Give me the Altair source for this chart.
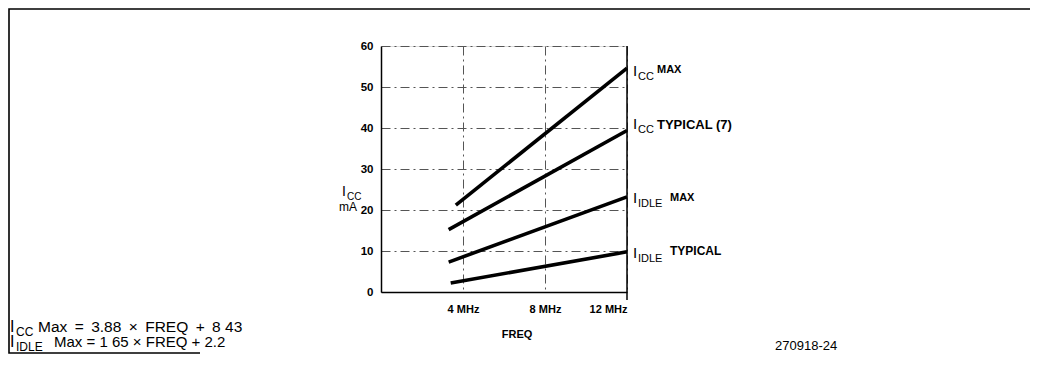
import altair as alt
import pandas as pd

# ---- data ----
series_names = ["ICC MAX", "ICC TYPICAL", "IDLE MAX", "IDLE TYPICAL"]
freq_icc_max = [3.65, 12.0]
val_icc_max = [21.2, 54.6]
freq_icc_typ = [3.3, 12.0]
val_icc_typ = [15.2, 39.4]
freq_idle_max = [3.3, 12.0]
val_idle_max = [7.3, 23.2]
freq_idle_typ = [3.4, 12.0]
val_idle_typ = [2.2, 9.8]

y_ticks = [0, 10, 20, 30, 40, 50, 60]
x_ticks = [4, 8, 12]
x_tick_labels = ["4 MHz", "8 MHz", "12 MHz"]

# line-end labels: main letter, subscript, suffix, anchor value (baseline of the "I")
lab_main = ["I", "I", "I", "I"]
lab_sub = ["CC", "CC", "IDLE", "IDLE"]
lab_suffix = ["MAX", "TYPICAL (7)", "MAX", "TYPICAL"]
lab_y = [52.7, 39.8, 21.7, 8.3]
# style of each label piece (offsets in px)
lab_sfx_dx = [30, 30, 43, 43]
lab_sfx_dy = [-3, 0, -2, -3]
lab_sfx_size = [11, 13, 11, 12]

rows = []
for name, fx, fy in zip(series_names,
                        [freq_icc_max, freq_icc_typ, freq_idle_max, freq_idle_typ],
                        [val_icc_max, val_icc_typ, val_idle_max, val_idle_typ]):
    for a, b in zip(fx, fy):
        rows.append({"series": name, "freq": a, "ma": b})
df = pd.DataFrame(rows)

FONT = "Liberation Sans"
W, H = 246, 246

xs = alt.Scale(domain=[0, 12], nice=False)
ys = alt.Scale(domain=[0, 60], nice=False)
GRID_DASH = [9, 4, 2, 4]

label_expr = " : ".join(
    f"datum.value == {v} ? '{t}'" for v, t in zip(x_ticks[:-1], x_tick_labels[:-1])
) + f" : '{x_tick_labels[-1]}'"

lines = alt.Chart(df).mark_line(color="black", strokeWidth=3.6, strokeCap="butt").encode(
    x=alt.X("freq:Q", scale=xs,
            axis=alt.Axis(values=x_ticks, grid=True, gridDash=GRID_DASH, gridColor="#555",
                          gridWidth=1, domain=True, domainColor="black", domainWidth=1.5,
                          ticks=False, labelPadding=11, labelFont=FONT, labelFontSize=11,
                          labelFontWeight="bold", labelColor="black",
                          labelExpr=label_expr, title=None)),
    y=alt.Y("ma:Q", scale=ys,
            axis=alt.Axis(values=y_ticks, grid=True, gridDash=GRID_DASH, gridColor="#555",
                          gridWidth=1, domain=True, domainColor="black", domainWidth=1.5,
                          ticks=False, labelPadding=8, labelFont=FONT, labelFontSize=11.5,
                          labelFontWeight="bold", labelColor="black", title=None)),
    detail="series:N",
)

right_edge = alt.Chart(pd.DataFrame({"x": [12]})).mark_rule(color="black", strokeWidth=1.5).encode(
    x=alt.X("x:Q", scale=xs), y=alt.value(0), y2=alt.value(H + 8))

label_layers = []
for i in range(4):
    d = pd.DataFrame({"x": [12], "y": [lab_y[i]], "m": [lab_main[i]],
                      "s": [lab_sub[i]], "f": [lab_suffix[i]]})
    c = alt.Chart(d)
    enc = dict(x=alt.X("x:Q", scale=xs), y=alt.Y("y:Q", scale=ys))
    label_layers.append(c.mark_text(align="left", baseline="alphabetic", font=FONT,
                                    fontSize=15, dx=6, color="black").encode(text="m:N", **enc))
    label_layers.append(c.mark_text(align="left", baseline="alphabetic", font=FONT,
                                    fontSize=11, dx=11, dy=4, color="black").encode(text="s:N", **enc))
    label_layers.append(c.mark_text(align="left", baseline="alphabetic", font=FONT,
                                    fontSize=lab_sfx_size[i], fontWeight="bold",
                                    dx=lab_sfx_dx[i], dy=lab_sfx_dy[i], color="black"
                                    ).encode(text="f:N", **enc))


def txt(s, x, y, size, weight="normal", align="left"):
    return alt.Chart(pd.DataFrame({"t": [s]})).mark_text(
        align=align, baseline="alphabetic", font=FONT, fontSize=size, fontWeight=weight,
        color="black").encode(text="t:N", x=alt.value(x), y=alt.value(y))


OX, OY = 381, 46  # plot origin in page pixels
def P(px, py):
    return px - OX, py - OY

T = "\u2009"
annots = [
    txt("I", *P(342, 196), 14),
    txt("CC", *P(347, 200), 10),
    txt("mA", *P(339, 211), 12),
    txt("FREQ", *P(517, 338), 11, weight="bold", align="center"),
    txt("I", *P(10, 332), 16),
    txt("CC", *P(16, 336), 12),
    txt(f"Max {T}={T} 3.88 {T}\u00d7{T} FREQ {T}+{T} 8 43", *P(38, 332), 15.5),
    txt("I", *P(10, 347), 16),
    txt("IDLE", *P(16, 351), 12),
    txt("Max = 1 65 \u00d7 FREQ + 2.2", *P(54, 347), 15),
    txt("270918-24", *P(775, 350), 13),
]

# decorative frame drawn as one polyline (pixel space, no scale)
frame_df = pd.DataFrame({
    "px": [1030 - OX, 9 - OX, 9 - OX, 200 - OX],
    "py": [9 - OY, 9 - OY, 353 - OY, 353 - OY],
    "o": [0, 1, 2, 3],
})
frame = alt.Chart(frame_df).mark_line(color="black", strokeWidth=1.6).encode(
    x=alt.X("px:Q", scale=None), y=alt.Y("py:Q", scale=None), order="o:Q")

# keep the whole page inside the 1042x367 window so no scrollbar appears
chart = alt.layer(lines, right_edge, *label_layers, *annots, frame).properties(
    width=W, height=H,
    autosize=alt.AutoSizeParams(type="none"),
    padding={"left": OX - 8, "top": OY - 8, "right": 1030 - OX - W, "bottom": 354 - OY - H},
).configure_view(stroke=None).configure(background="white")

chart.save("out.html", embed_options={"renderer": "svg", "actions": False})
